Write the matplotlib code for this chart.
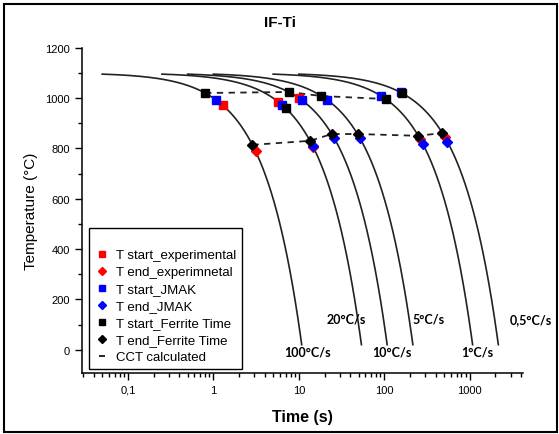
import numpy as np
import matplotlib
matplotlib.use('Agg')
import matplotlib.pyplot as plt
from matplotlib.lines import Line2D
from matplotlib.patches import Rectangle
from matplotlib.ticker import FixedLocator, FixedFormatter, LogLocator, MultipleLocator, NullFormatter

# ---------------- data ----------------
rates = [100, 20, 10, 5, 1, 0.5]                      # cooling rates (°C/s)
rate_labels = ['100°C/s', '20°C/s', '10°C/s', '5°C/s', '1°C/s', '0,5°C/s']
label_t = [12.6, 36, 124, 327, 1220, 2900]            # label anchor times
label_T = [-8, 122, -8, 122, -8, 122]                 # label anchor temperatures
T_aus = 1100                                          # austenitising temperature
T_curve_start = 1095
T_curve_end = 20

ts_exp_t = [1.28, 5.75, 10.0]
ts_exp_T = [972, 985, 1000]
te_exp_t = [3.12, 14.75, 262, 508]
te_exp_T = [788, 805, 838, 846]
ts_jmak_t = [1.08, 6.4, 10.8, 21.6, 92, 156]
ts_jmak_T = [992, 972, 992, 992, 1008, 1022]
te_jmak_t = [14.6, 25.8, 51.6, 282, 548]
te_jmak_T = [808, 842, 842, 818, 826]
ts_fer_t = [0.8, 7.0, 7.6, 18.4, 104, 160]
ts_fer_T = [1020, 960, 1024, 1008, 996, 1020]
te_fer_t = [2.86, 13.5, 24.3, 48.6, 250, 478]
te_fer_T = [814, 830, 857, 857, 850, 861]

cct_start_t = [0.8, 7.6, 18.4, 104]
cct_start_T = [1020, 1024, 1008, 996]
cct_end_t = [2.86, 13.5, 24.3, 48.6, 250, 478]
cct_end_T = [814, 830, 857, 857, 850, 861]

xtick_vals = [0.1, 1, 10, 100, 1000]
xtick_labels = ['0,1', '1', '10', '100', '1000']

# ---------------- figure ----------------
plt.rcParams['font.family'] = ['Liberation Sans', 'DejaVu Sans']
W, H = 559, 435
fig = plt.figure(figsize=(W / 100, H / 100), dpi=100)
ax_bottom_px = 374
ax = fig.add_axes([82 / W, 1 - ax_bottom_px / H, 441 / W, (ax_bottom_px - 48.7) / H])

# cooling curves
for r in rates:
    t0 = (T_aus - T_curve_start) / r
    t1 = (T_aus - T_curve_end) / r
    tt = np.geomspace(t0, t1, 300)
    ax.plot(tt, T_aus - r * tt, color='#222222', lw=1.2, zorder=2)

# CCT calculated lines
ax.plot(cct_start_t, cct_start_T, color='#222222', lw=1.3, ls=(0, (3.5, 3)), zorder=3)
ax.plot(cct_end_t, cct_end_T, color='#222222', lw=1.3, ls=(0, (3.5, 3)), zorder=3)

ms = 6
ax.plot(ts_exp_t, ts_exp_T, 's', color='#ff0000', ms=ms, ls='none', zorder=4)
ax.plot(te_exp_t, te_exp_T, 'D', color='#ff0000', ms=ms - 1, ls='none', zorder=4)
ax.plot(ts_jmak_t, ts_jmak_T, 's', color='#0000ff', ms=ms, ls='none', zorder=5)
ax.plot(te_jmak_t, te_jmak_T, 'D', color='#0000ff', ms=ms - 1, ls='none', zorder=5)
ax.plot(ts_fer_t, ts_fer_T, 's', color='black', ms=ms, ls='none', zorder=6)
ax.plot(te_fer_t, te_fer_T, 'D', color='black', ms=ms - 1, ls='none', zorder=6)

# rate labels
for lab, lt, lT in zip(rate_labels, label_t, label_T):
    ha = 'left' if lab.startswith('0,5') else 'center'
    ax.text(lt, lT, lab, ha=ha, va='center', fontsize=9, fontweight='bold',
            family=['Lato', 'DejaVu Sans'], clip_on=False)

# axes styling
ax.set_xscale('log')
ax.set_xlim(0.029, 4200)
ax.set_ylim(-(ax_bottom_px - 350.7) / 0.2517, 1200)
ax.spines['top'].set_visible(False)
ax.spines['right'].set_visible(False)
ax.xaxis.set_major_locator(FixedLocator(xtick_vals))
ax.xaxis.set_major_formatter(FixedFormatter(xtick_labels))
ax.xaxis.set_minor_locator(LogLocator(base=10, subs=np.arange(2, 10)))
ax.xaxis.set_minor_formatter(NullFormatter())
ax.yaxis.set_major_locator(MultipleLocator(200))
ax.yaxis.set_minor_locator(MultipleLocator(100))
ax.tick_params(which='both', direction='out', width=1, labelsize=8)
ax.tick_params(which='major', length=5)
ax.tick_params(which='minor', length=3)
for s in ('left', 'bottom'):
    ax.spines[s].set_linewidth(1.1)

ax.set_ylabel('Temperature (°C)', fontsize=11, labelpad=5)
ax.set_xlabel('Time (s)', fontsize=11.5, fontweight='bold', labelpad=10)
fig.text(280 / W, 1 - 23 / H, 'IF-Ti', ha='center', va='center', fontsize=11, fontweight='bold')

# legend
handles = [
    Line2D([], [], marker='s', color='#ff0000', ls='none', ms=5),
    Line2D([], [], marker='D', color='#ff0000', ls='none', ms=4.5),
    Line2D([], [], marker='s', color='#0000ff', ls='none', ms=5),
    Line2D([], [], marker='D', color='#0000ff', ls='none', ms=4.5),
    Line2D([], [], marker='s', color='black', ls='none', ms=5),
    Line2D([], [], marker='D', color='black', ls='none', ms=4.5),
    Line2D([], [], marker='_', color='black', ls='none', ms=5, mew=1.2),
]
labels = ['T start_experimental', 'T end_experimnetal', 'T start_JMAK', 'T end_JMAK',
          'T start_Ferrite Time', 'T end_Ferrite Time', 'CCT calculated']
leg = ax.legend(handles, labels, loc='lower left', bbox_to_anchor=(0.016, 0.012),
                borderaxespad=0, fontsize=9.5, frameon=True, fancybox=False,
                edgecolor='black', framealpha=1, handlelength=1.0, handletextpad=0.6,
                labelspacing=0.36, title=' ', title_fontsize=7, borderpad=0.45)
leg.get_frame().set_linewidth(1.0)

# outer frame
fig.patches.append(Rectangle((4 / W, 2 / H), 553 / W, 428 / H, transform=fig.transFigure,
                             fill=False, edgecolor='black', lw=1.5))

fig.savefig('out.png', dpi=100)
